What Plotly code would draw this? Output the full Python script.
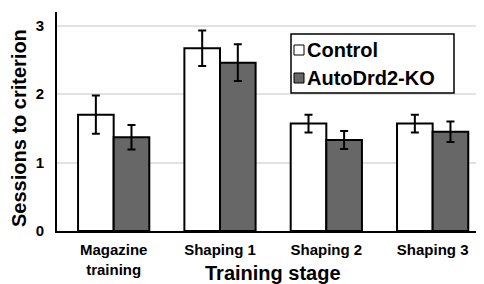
import plotly.graph_objects as go

categories = ["Magazine<br>training", "Shaping 1", "Shaping 2", "Shaping 3"]
control_vals = [1.70, 2.67, 1.57, 1.57]
control_err = [0.28, 0.26, 0.13, 0.13]
ko_vals = [1.37, 2.46, 1.33, 1.45]
ko_err = [0.18, 0.27, 0.13, 0.15]
y_ticks = [0, 1, 2, 3]
series_names = ["Control", "AutoDrd2-KO"]
series_colors = ["white", "#676767"]

FONT = "Liberation Sans, Arial, sans-serif"

# the page body has an 8px default margin; size the figure so that it fits the window
OFF = 8
W, H = 484 - OFF, 284 - OFF
L, R, T, B = 57 - OFF, 0, 12 - OFF, 53
pw, ph = W - L - R, H - T - B

def px(x):
    return (x - OFF - L) / pw

def py(y):
    return (H - B - (y - OFF)) / ph

fig = go.Figure()
for name, vals, err, col in zip(series_names, [control_vals, ko_vals], [control_err, ko_err], series_colors):
    fig.add_trace(go.Bar(
        x=categories, y=vals, name=name,
        marker=dict(color=col, line=dict(color="black", width=2)),
        error_y=dict(type="data", array=err, color="black", thickness=2, width=4),
    ))

shapes = [dict(type="rect", xref="paper", yref="paper",
               x0=px(291), x1=px(454), y0=py(93), y1=py(34),
               line=dict(color="black", width=1.5), fillcolor="white", layer="above")]
annotations = []
for i, (name, col) in enumerate(zip(series_names, series_colors)):
    cy = 50 + i * 28
    shapes.append(dict(type="rect", xref="paper", yref="paper",
                       x0=px(294), x1=px(304), y0=py(cy + 5), y1=py(cy - 5),
                       line=dict(color="black", width=1), fillcolor=col, layer="above"))
    annotations.append(dict(text=f"<b>{name}</b>", xref="paper", yref="paper",
                            x=px(305), y=py(cy), xanchor="left", yanchor="middle",
                            showarrow=False, font=dict(size=20, family=FONT, color="black")))

annotations.append(dict(text="<b>Training stage</b>", xref="paper", yref="paper",
                        x=px(273), y=py(273), xanchor="center", yanchor="middle",
                        showarrow=False, font=dict(size=20, family=FONT, color="black")))
annotations.append(dict(text="<b>Sessions to criterion</b>", xref="paper", yref="paper",
                        x=px(19), y=py(128), xanchor="center", yanchor="middle", textangle=-90,
                        showarrow=False, font=dict(size=20, family=FONT, color="black")))

fig.update_layout(
    width=W, height=H,
    margin=dict(l=L, r=R, t=T, b=B),
    paper_bgcolor="white", plot_bgcolor="white",
    barmode="group", bargap=0.33, bargroupgap=0,
    font=dict(family=FONT, color="black"),
    showlegend=False,
    shapes=shapes, annotations=annotations,
)
fig.update_xaxes(
    range=[-0.533, 3.483], automargin=False,
    showline=True, linecolor="black", linewidth=2,
    ticks="", showgrid=False,
    ticklabelstandoff=4,
    tickfont=dict(size=15, family=FONT, weight="bold"),
)
fig.update_yaxes(
    range=[0, 3.2], tickvals=y_ticks, automargin=False,
    showline=True, linecolor="black", linewidth=2,
    showgrid=True, gridcolor="#e2e2e2", gridwidth=1.5,
    zeroline=False, ticks="",
    ticklabelstandoff=8,
    tickfont=dict(size=15, family=FONT, weight="bold"),
)

fig.write_html("out.html")
